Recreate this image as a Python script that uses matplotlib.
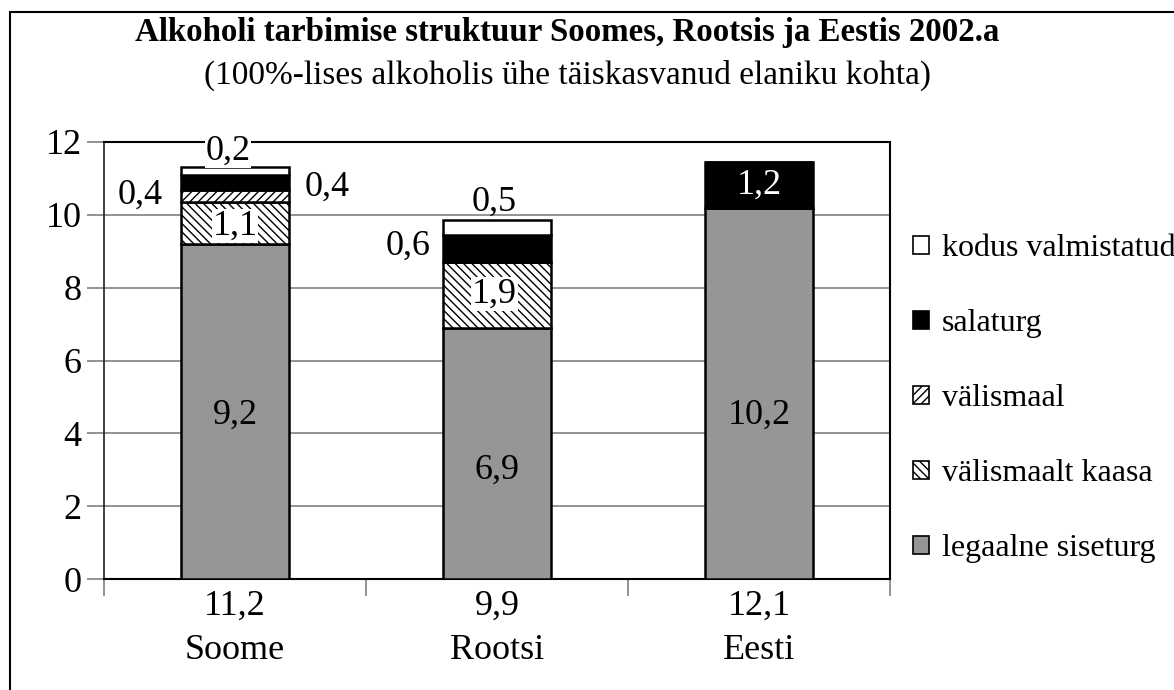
import matplotlib
matplotlib.use("Agg")
import matplotlib.pyplot as plt
from matplotlib.patches import Rectangle, Patch
import numpy as np

plt.rcParams['font.family'] = ['Liberation Serif', 'DejaVu Serif']
plt.rcParams['hatch.linewidth'] = 1.0

countries = ["Soome", "Rootsi", "Eesti"]
totals = ["11,2", "9,9", "12,1"]
series = ["legaalne siseturg", "välismaalt kaasa", "välismaal", "salaturg", "kodus valmistatud"]
legaalne = [9.2, 6.9, 10.2]
kaasa = [1.15, 1.8, 0.0]
valismaal = [0.33, 0.0, 0.0]
salaturg = [0.41, 0.75, 1.25]
kodus = [0.22, 0.41, 0.0]
# value labels as printed on the chart
labels_legaalne = ["9,2", "6,9", "10,2"]
labels_kaasa = ["1,1", "1,9", ""]
labels_valismaal = ["0,4", "", ""]
labels_salaturg = ["0,4", "0,6", "1,2"]
labels_kodus = ["0,2", "0,5", ""]

W, H = 1174, 690
fig = plt.figure(figsize=(W/100, H/100), dpi=100)
ax = fig.add_axes([104/W, 1-579/H, (890-104)/W, (579-142)/H])

x = np.arange(len(countries))
bw = 0.41
data = [legaalne, kaasa, valismaal, salaturg, kodus]
faces = ["#969696", "white", "white", "black", "white"]
hatches = [None, "\\\\\\\\", "////", None, None]
bottom = np.zeros(3)
for vals, fc, hc in zip(data, faces, hatches):
    vals = np.array(vals)
    ax.bar(x, vals, bw, bottom=bottom, color=fc, edgecolor="black",
           linewidth=1.8, hatch=hc, zorder=3)
    bottom += vals

ax.set_xlim(-0.5, 2.5)
ax.set_ylim(0, 12)
ax.set_yticks(range(0, 13, 2))
ax.set_yticklabels([str(v) for v in range(0, 13, 2)], fontsize=26)
ax.yaxis.grid(True, color="#808080", linewidth=1.2, zorder=0)
ax.set_xticks(x)
ax.set_xticklabels([f"{t}\n{c}" for t, c in zip(totals, countries)], fontsize=26, linespacing=1.45)
ax.tick_params(axis="x", length=0, pad=8)
ax.tick_params(axis="y", length=12, width=1.2, color="#808080", pad=4)
ax.set_xticks([-0.5, 0.5, 1.5, 2.5], minor=True)
ax.tick_params(axis="x", which="minor", length=12, width=1.2, color="#808080")
for s in ["top", "right"]:
    ax.spines[s].set_linewidth(1.5)
    ax.spines[s].set_color("black")
ax.spines["left"].set_linewidth(1.2)
ax.spines["left"].set_color("#202020")
ax.spines["bottom"].set_linewidth(1.5)

def lab(xv, yv, t, color="black", bg=True):
    kw = dict(ha="center", va="center", fontsize=26, color=color, zorder=5)
    if bg:
        kw["bbox"] = dict(facecolor="white", edgecolor="none", pad=0.5)
    ax.text(xv, yv, t, **kw)

lab(0.0, 4.5, labels_legaalne[0], bg=False)
lab(1.0, 3.0, labels_legaalne[1], bg=False)
lab(2.0, 4.5, labels_legaalne[2], bg=False)
lab(0.0, 9.7, labels_kaasa[0])
lab(0.99, 7.83, labels_kaasa[1])
lab(-0.363, 10.55, labels_valismaal[0])
lab(0.351, 10.77, labels_salaturg[0])
lab(0.66, 9.15, labels_salaturg[1], bg=False)
lab(2.0, 10.82, labels_salaturg[2], color="white", bg=False)
lab(-0.027, 11.75, labels_kodus[0])
lab(0.99, 10.35, labels_kodus[1], bg=False)

handles = [Patch(facecolor=fc, edgecolor="black", hatch=hc, linewidth=1.2)
           for fc, hc in zip(faces, hatches)]
leg = fig.legend(handles[::-1], series[::-1], loc="upper left",
                 bbox_to_anchor=(913/W, 1-234/H), frameon=False, fontsize=23,
                 handlelength=0.5, handleheight=0.5, handletextpad=0.4,
                 labelspacing=1.44, borderaxespad=0, borderpad=0)

fig.text(567/W, 1-33/H, "Alkoholi tarbimise struktuur Soomes, Rootsis ja Eestis 2002.a",
         ha="center", va="center", fontsize=23.7, fontweight="bold")
fig.text(567/W, 1-75/H, "(100%-lises alkoholis ühe täiskasvanud elaniku kohta)",
         ha="center", va="center", fontsize=24)

fig.patches.append(Rectangle((10/W, -0.1), 1.2, 1 - 12/H + 0.1, transform=fig.transFigure,
                             fill=False, edgecolor="black", linewidth=1.5))

fig.savefig("out.png", dpi=100)
